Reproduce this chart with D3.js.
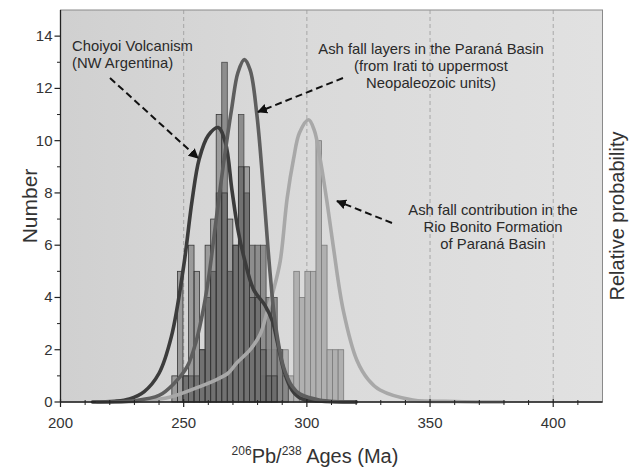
<!DOCTYPE html>
<html>
<head>
<meta charset="utf-8">
<script src="https://cdn.jsdelivr.net/npm/d3@7"></script>
<style>
  body { margin: 0; background: #fff; }
  svg { display: block; font-family: "Liberation Sans", Arial, sans-serif; }
</style>
</head>
<body>
<svg id="chart" width="635" height="469"></svg>
<script>
// histogram bins (Ma)
const binStart = 245.2;
const binWidth = 2.25;

// counts per bin, starting at binStart
const choiyoiCounts = [1, 5, 1, 6, 5, 2, 6, 7, 11, 8, 7, 6, 9, 9, 4, 4, 2, 1, 1, 0, 0, 0];
const paranaCounts = [0, 0, 1, 1, 1, 2, 4, 5, 8, 13, 5, 6, 11, 8, 6, 6, 6, 4, 4, 2, 1, 0];
const rioBonitoCounts = [0, 0, 0, 0, 0, 0, 0, 0, 0, 0, 0, 0, 0, 0, 0, 0, 1, 2, 2, 2, 2, 1,
  5, 4, 5, 5, 10, 6, 2, 2, 2];

// probability curves, [age Ma, value on the Number axis]
const choiyoiCurve = [[213, 0], [222, 0.03], [228, 0.12], [234, 0.4], [240, 1.1], [245, 2.5],
  [250, 5.2], [253.4, 7.7], [256.3, 9.3], [260, 10.2], [264, 10.5], [267, 9.9], [269.6, 8.1],
  [272, 6.6], [274.3, 5.6], [278.4, 4.3], [283, 3.7], [286, 3.1], [288, 2.3], [291, 1.1],
  [294, 0.45], [297.3, 0.15], [305, 0.04], [320, 0]];
const paranaCurve = [[215, 0], [230, 0.05], [240, 0.25], [246, 0.7], [251.4, 1.35], [255, 2.3],
  [258.1, 3.6], [260.5, 5.0], [262.8, 6.7], [266, 9.0], [269.6, 11.3], [272, 12.6], [274.6, 13.1],
  [277, 12.7], [279.7, 11.0], [282.4, 8.1], [285.1, 4.9], [287.2, 3.0], [290.5, 1.35], [294, 0.6],
  [297.3, 0.3], [305, 0.08], [320, 0]];
const rioBonitoCurve = [[220, 0], [235, 0.05], [245, 0.2], [256.8, 0.6], [262, 0.8], [268, 1.1],
  [271.6, 1.5], [277, 2.0], [281.1, 2.6], [284, 3.5], [286.5, 4.3], [289.2, 5.4], [292, 7.8],
  [294.6, 9.3], [297, 10.3], [300.7, 10.8], [303, 10.4], [305.4, 9.3], [308.1, 7.7], [310.8, 5.9],
  [314.8, 3.5], [320.3, 1.6], [325, 0.85], [329.7, 0.46], [343, 0.08], [360, 0.02], [380, 0]];

const xMajorTicks = [200, 250, 300, 350, 400];
const xMinorTicks = d3.range(210, 420, 10).filter(v => v % 50 !== 0);
const yMajorTicks = [0, 2, 4, 6, 8, 10, 12, 14];
const yMinorTicks = [1, 3, 5, 7, 9, 11, 13];
const gridAges = [250, 300, 350, 400];

const svg = d3.select("#chart");
const margin = {top: 10, right: 32.5, bottom: 67, left: 60.5};
const width = 635, height = 469;

const x = d3.scaleLinear().domain([200, 420]).range([margin.left, width - margin.right]);
const y = d3.scaleLinear().domain([0, 15]).range([height - margin.bottom, margin.top]);

// background gradient
const defs = svg.append("defs");
const grad = defs.append("linearGradient").attr("id", "bg").attr("x1", 0).attr("x2", 1);
grad.append("stop").attr("offset", "0%").attr("stop-color", "#d0d0d0");
grad.append("stop").attr("offset", "45%").attr("stop-color", "#dadada");
grad.append("stop").attr("offset", "100%").attr("stop-color", "#e1e1e1");

defs.append("marker")
  .attr("id", "arrow")
  .attr("viewBox", "0 0 10 10")
  .attr("refX", 9).attr("refY", 5)
  .attr("markerWidth", 5).attr("markerHeight", 5)
  .attr("orient", "auto")
  .append("path").attr("d", "M0,0 L10,5 L0,10 z").attr("fill", "#111");

svg.append("rect")
  .attr("x", x(200)).attr("y", y(15))
  .attr("width", x(420) - x(200)).attr("height", y(0) - y(15))
  .attr("fill", "url(#bg)")
  .attr("stroke", "#8a8a8a").attr("stroke-width", 1);

// dashed grid lines
svg.append("g").selectAll("line").data(gridAges).join("line")
  .attr("x1", d => x(d)).attr("x2", d => x(d))
  .attr("y1", y(15)).attr("y2", y(0))
  .attr("stroke", "#9a9a9a").attr("stroke-width", 0.8)
  .attr("stroke-dasharray", "4,3");

// histograms
function drawBars(counts, fill, opacity, stroke) {
  const data = counts.map((c, i) => ({x0: binStart + i * binWidth, n: c})).filter(d => d.n > 0);
  svg.append("g").selectAll("rect").data(data).join("rect")
    .attr("x", d => x(d.x0))
    .attr("width", d => x(d.x0 + binWidth) - x(d.x0))
    .attr("y", d => y(d.n))
    .attr("height", d => y(0) - y(d.n))
    .attr("fill", fill).attr("fill-opacity", opacity)
    .attr("stroke", stroke).attr("stroke-width", 0.8);
}
drawBars(rioBonitoCounts, "#b0b0b0", 1, "#7a7a7a");
drawBars(paranaCounts, "#808080", 0.85, "#484848");
drawBars(choiyoiCounts, "#4a4a4a", 0.42, "#363636");

// curves
const line = d3.line()
  .x(d => x(d[0])).y(d => y(d[1]))
  .curve(d3.curveCatmullRom.alpha(0.5));

[[rioBonitoCurve, "#a8a8a8"], [choiyoiCurve, "#3c3c3c"], [paranaCurve, "#5e5e5e"]]
  .forEach(([pts, col]) => {
    svg.append("path").datum(pts)
      .attr("d", line)
      .attr("fill", "none")
      .attr("stroke", col)
      .attr("stroke-width", 3.6)
      .attr("stroke-linecap", "round");
  });

// axes
const axisX = svg.append("g").attr("transform", `translate(0,${y(0)})`);
axisX.append("line").attr("x1", x(200)).attr("x2", x(420)).attr("stroke", "#222").attr("stroke-width", 1.3);
axisX.selectAll(".maj").data(xMajorTicks).join("line")
  .attr("x1", d => x(d)).attr("x2", d => x(d)).attr("y1", -3).attr("y2", 5)
  .attr("stroke", "#222").attr("stroke-width", 1.2);
axisX.selectAll(".min").data(xMinorTicks).join("line")
  .attr("class", "min")
  .attr("x1", d => x(d)).attr("x2", d => x(d)).attr("y1", -2).attr("y2", 3)
  .attr("stroke", "#222").attr("stroke-width", 1);
axisX.selectAll("text").data(xMajorTicks).join("text")
  .attr("x", d => x(d)).attr("y", 26)
  .attr("text-anchor", "middle").attr("font-size", 15).attr("fill", "#333")
  .text(d => d);

const axisY = svg.append("g").attr("transform", `translate(${x(200)},0)`);
axisY.append("line").attr("y1", y(15)).attr("y2", y(0)).attr("stroke", "#222").attr("stroke-width", 1.3);
axisY.selectAll(".maj").data(yMajorTicks).join("line")
  .attr("y1", d => y(d)).attr("y2", d => y(d)).attr("x1", -6).attr("x2", 0)
  .attr("stroke", "#222").attr("stroke-width", 1.2);
axisY.selectAll(".min").data(yMinorTicks).join("line")
  .attr("class", "min")
  .attr("y1", d => y(d)).attr("y2", d => y(d)).attr("x1", -3.5).attr("x2", 0)
  .attr("stroke", "#222").attr("stroke-width", 1);
axisY.selectAll("text").data(yMajorTicks).join("text")
  .attr("x", -8).attr("y", d => y(d) + 5)
  .attr("text-anchor", "end").attr("font-size", 15).attr("fill", "#333")
  .text(d => d);

// axis titles
svg.append("text")
  .attr("transform", `translate(37,${(y(0) + y(15)) / 2}) rotate(-90)`)
  .attr("text-anchor", "middle").attr("font-size", 21).attr("fill", "#333")
  .text("Number");
svg.append("text")
  .attr("transform", `translate(624,${(y(0) + y(15)) / 2 + 10}) rotate(-90)`)
  .attr("text-anchor", "middle").attr("font-size", 20).attr("fill", "#333")
  .text("Relative probability");
const xt = svg.append("text")
  .attr("x", 315).attr("y", 463)
  .attr("text-anchor", "middle").attr("font-size", 20).attr("fill", "#333");
xt.append("tspan").attr("font-size", 12).attr("dy", -8).text("206");
xt.append("tspan").attr("dy", 8).text("Pb/");
xt.append("tspan").attr("font-size", 12).attr("dy", -8).text("238");
xt.append("tspan").attr("dy", 8).text(" Ages (Ma)");

// annotations
function label(lines, xPos, y0, anchor) {
  const t = svg.append("text").attr("font-size", 14.8).attr("fill", "#2a2a2a")
    .attr("text-anchor", anchor);
  lines.forEach((s, i) => t.append("tspan").attr("x", xPos).attr("y", y0 + i * 17).text(s));
}
label(["Choiyoi Volcanism", "(NW Argentina)"], 72, 51, "start");
label(["Ash fall layers in the Paraná Basin", "(from Irati to uppermost", "Neopaleozoic units)"], 431, 54, "middle");
label(["Ash fall contribution in the", "Rio Bonito Formation", "of Paraná Basin"], 493, 215, "middle");

const arrows = [
  [[110, 78], [198, 158]],
  [[343, 78], [258, 112]],
  [[392, 223], [337, 201]]
];
svg.append("g").selectAll("line").data(arrows).join("line")
  .attr("x1", d => d[0][0]).attr("y1", d => d[0][1])
  .attr("x2", d => d[1][0]).attr("y2", d => d[1][1])
  .attr("stroke", "#111").attr("stroke-width", 2)
  .attr("stroke-dasharray", "7,4")
  .attr("marker-end", "url(#arrow)");
</script>
</body>
</html>
